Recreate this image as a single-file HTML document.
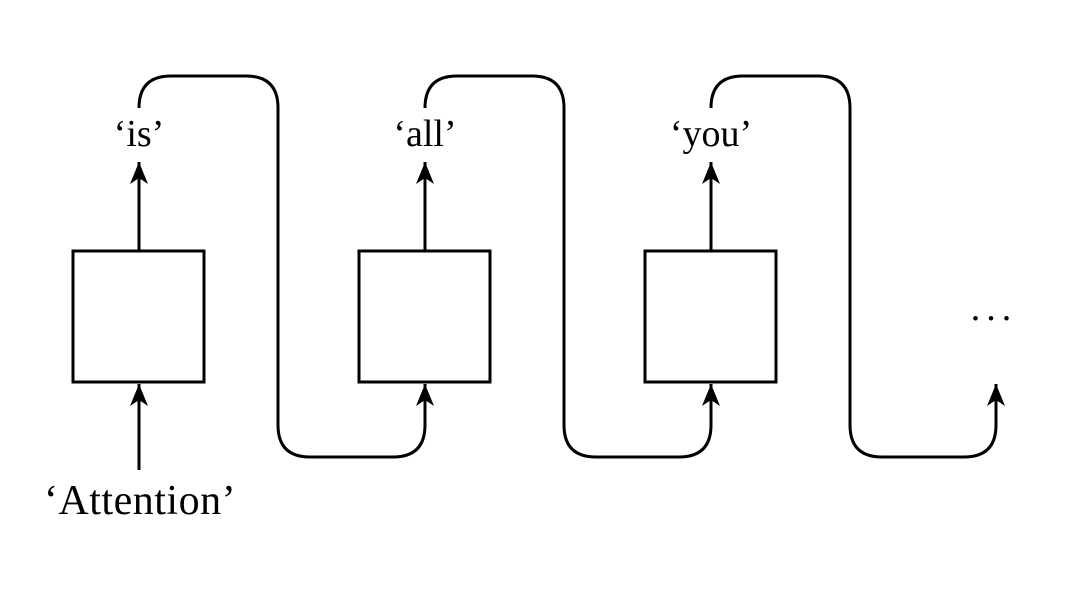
<!DOCTYPE html>
<html><head><style>body{margin:0;background:#fff}</style></head><body>
<svg width="1080" height="584" xmlns="http://www.w3.org/2000/svg">
<defs>
<marker id="a" markerWidth="26" markerHeight="24" refX="22" refY="9" orient="auto" markerUnits="userSpaceOnUse">
<path d="M22,9 L0,0 L6,9 L0,18 Z" fill="#000"/>
</marker>
</defs>
<g fill="none" stroke="#000" stroke-width="3">
<rect x="73" y="251" width="131" height="131"/>
<rect x="359" y="251" width="131" height="131"/>
<rect x="645" y="251" width="131" height="131"/>
<line x1="139" y1="251" x2="139" y2="162" marker-end="url(#a)"/>
<line x1="425" y1="251" x2="425" y2="162" marker-end="url(#a)"/>
<line x1="711" y1="251" x2="711" y2="162" marker-end="url(#a)"/>
<line x1="139" y1="470" x2="139" y2="384" marker-end="url(#a)"/>
<path d="M139,108 Q139,76 171,76 L246,76 Q278,76 278,108 L278,425 Q278,457 310,457 L393,457 Q425,457 425,425 L425,384" marker-end="url(#a)"/>
<path d="M425,108 Q425,76 457,76 L532,76 Q564,76 564,108 L564,425 Q564,457 596,457 L679,457 Q711,457 711,425 L711,384" marker-end="url(#a)"/>
<path d="M711,108 Q711,76 743,76 L818,76 Q850,76 850,108 L850,425 Q850,457 882,457 L964,457 Q996,457 996,425 L996,384" marker-end="url(#a)"/>
</g>
<g font-family="Liberation Serif, serif" font-size="38" text-anchor="middle" fill="#000">
<text x="139" y="146">‘is’</text>
<text x="425" y="146">‘all’</text>
<text x="711" y="146">‘you’</text>
<text x="140" y="514" font-size="42" letter-spacing="0.5">‘Attention’</text>
<text x="994" y="320" letter-spacing="6">...</text>
</g>
</svg>
</body></html>
